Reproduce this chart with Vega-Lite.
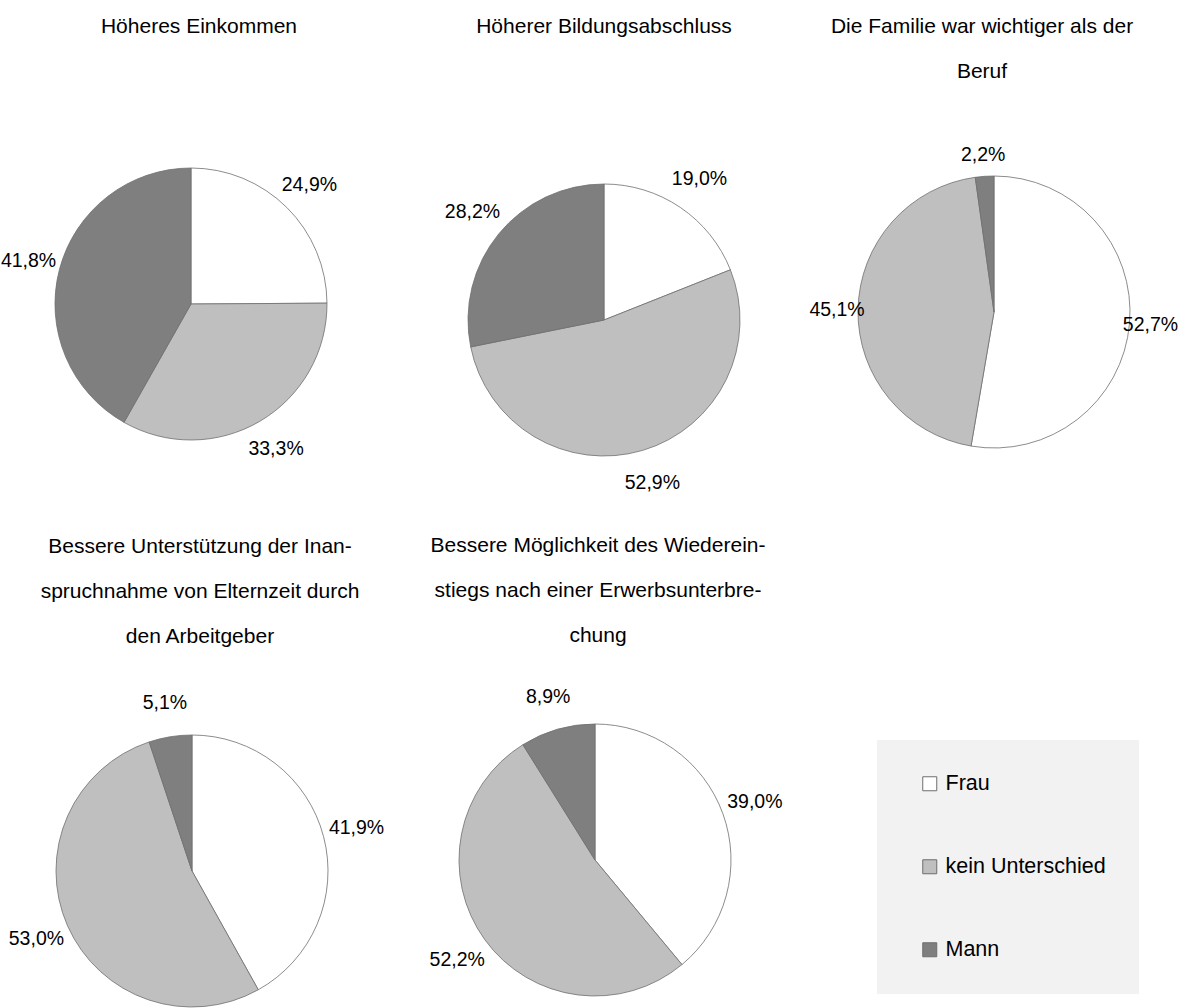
{
  "$schema": "https://vega.github.io/schema/vega-lite/v6.json",
  "background": "white",
  "padding": {"top": 16, "left": 0, "right": 0, "bottom": 0},
  "config": {
    "locale": {"number": {"decimal": ",", "thousands": ".", "grouping": [3], "currency": ["", " €"]}},
    "font": "Liberation Sans",
    "view": {"stroke": null},
    "title": {"font": "Liberation Sans", "fontSize": 21, "fontWeight": "normal", "color": "#000000", "lineHeight": 45, "anchor": "middle", "frame": "group"}
  },
  "data": {
    "values": [
      {"Frage": "Höheres Einkommen", "Antwort": "Frau", "Nr": 1, "Anteil": 0.249},
      {"Frage": "Höheres Einkommen", "Antwort": "kein Unterschied", "Nr": 2, "Anteil": 0.333},
      {"Frage": "Höheres Einkommen", "Antwort": "Mann", "Nr": 3, "Anteil": 0.418},
      {"Frage": "Höherer Bildungsabschluss", "Antwort": "Frau", "Nr": 1, "Anteil": 0.190},
      {"Frage": "Höherer Bildungsabschluss", "Antwort": "kein Unterschied", "Nr": 2, "Anteil": 0.529},
      {"Frage": "Höherer Bildungsabschluss", "Antwort": "Mann", "Nr": 3, "Anteil": 0.282},
      {"Frage": "Die Familie war wichtiger als der Beruf", "Antwort": "Frau", "Nr": 1, "Anteil": 0.527},
      {"Frage": "Die Familie war wichtiger als der Beruf", "Antwort": "kein Unterschied", "Nr": 2, "Anteil": 0.451},
      {"Frage": "Die Familie war wichtiger als der Beruf", "Antwort": "Mann", "Nr": 3, "Anteil": 0.022},
      {"Frage": "Elternzeit", "Antwort": "Frau", "Nr": 1, "Anteil": 0.419},
      {"Frage": "Elternzeit", "Antwort": "kein Unterschied", "Nr": 2, "Anteil": 0.530},
      {"Frage": "Elternzeit", "Antwort": "Mann", "Nr": 3, "Anteil": 0.051},
      {"Frage": "Wiedereinstieg", "Antwort": "Frau", "Nr": 1, "Anteil": 0.390},
      {"Frage": "Wiedereinstieg", "Antwort": "kein Unterschied", "Nr": 2, "Anteil": 0.522},
      {"Frage": "Wiedereinstieg", "Antwort": "Mann", "Nr": 3, "Anteil": 0.089}
    ]
  },
  "bounds": "flush",
  "align": "none",
  "spacing": 636,
  "resolve": {"scale": {"theta": "independent"}},
  "vconcat": [
    {
      "bounds": "flush",
      "align": "none",
      "spacing": 0,
      "resolve": {"scale": {"theta": "independent"}},
      "hconcat": [
        {
          "title": {"text": "Höheres Einkommen", "offset": 62, "dx": 8},
          "width": 380, "height": 410,
          "transform": [{"filter": "datum.Frage === 'Höheres Einkommen'"}],
          "encoding": {
            "theta": {"field": "Anteil", "type": "quantitative", "stack": true},
            "order": {"field": "Nr", "type": "quantitative"}
          },
          "layer": [
            {
              "mark": {"type": "arc", "outerRadius": 136, "stroke": "#6e6e6e", "strokeWidth": 0.8},
              "encoding": {
                "color": {"field": "Antwort", "type": "nominal",
                  "scale": {"domain": ["Frau", "kein Unterschied", "Mann"], "range": ["#ffffff", "#bfbfbf", "#7f7f7f"]},
                  "legend": {"orient": "none", "legendX": 876, "legendY": 641, "title": null, "symbolType": "square", "symbolSize": 196, "symbolStrokeColor": "#6e6e6e", "symbolStrokeWidth": 1, "labelFont": "Liberation Sans", "labelFontSize": 21.5, "labelColor": "#000000", "labelLimit": 400, "labelOffset": 5, "fillColor": "#f2f2f2", "padding": 33, "rowPadding": 60, "symbolOffset": 9}}
              }
            },
            {
              "mark": {"type": "text", "radius": 168, "fontSize": 19.5, "font": "Liberation Sans"},
              "encoding": {
                "detail": {"field": "Antwort", "type": "nominal"},
                "text": {"field": "Anteil", "type": "quantitative", "format": ".1%"},
                "color": {"value": "#000000"}
              }
            }
          ]
        },
        {
          "title": {"text": "Höherer Bildungsabschluss", "offset": 62},
          "width": 446, "height": 442,
          "transform": [{"filter": "datum.Frage === 'Höherer Bildungsabschluss'"}],
          "encoding": {
            "theta": {"field": "Anteil", "type": "quantitative", "stack": true},
            "order": {"field": "Nr", "type": "quantitative"}
          },
          "layer": [
            {
              "mark": {"type": "arc", "outerRadius": 136, "stroke": "#6e6e6e", "strokeWidth": 0.8},
              "encoding": {
                "color": {"field": "Antwort", "type": "nominal",
                  "scale": {"domain": ["Frau", "kein Unterschied", "Mann"], "range": ["#ffffff", "#bfbfbf", "#7f7f7f"]},
                  "legend": {"orient": "none", "legendX": 876, "legendY": 641, "title": null, "symbolType": "square", "symbolSize": 196, "symbolStrokeColor": "#6e6e6e", "symbolStrokeWidth": 1, "labelFont": "Liberation Sans", "labelFontSize": 21.5, "labelColor": "#000000", "labelLimit": 400, "labelOffset": 5, "fillColor": "#f2f2f2", "padding": 33, "rowPadding": 60, "symbolOffset": 9}}
              }
            },
            {
              "mark": {"type": "text", "radius": 170, "fontSize": 19.5, "font": "Liberation Sans"},
              "encoding": {
                "detail": {"field": "Antwort", "type": "nominal"},
                "text": {"field": "Anteil", "type": "quantitative", "format": ".1%"},
                "color": {"value": "#000000"}
              }
            }
          ]
        },
        {
          "title": {"text": ["Die Familie war wichtiger als der", "Beruf"], "offset": 17, "dx": -12},
          "width": 334, "height": 426,
          "transform": [{"filter": "datum.Frage === 'Die Familie war wichtiger als der Beruf'"}],
          "encoding": {
            "theta": {"field": "Anteil", "type": "quantitative", "stack": true},
            "order": {"field": "Nr", "type": "quantitative"}
          },
          "layer": [
            {
              "mark": {"type": "arc", "outerRadius": 136, "stroke": "#6e6e6e", "strokeWidth": 0.8},
              "encoding": {
                "color": {"field": "Antwort", "type": "nominal",
                  "scale": {"domain": ["Frau", "kein Unterschied", "Mann"], "range": ["#ffffff", "#bfbfbf", "#7f7f7f"]},
                  "legend": {"orient": "none", "legendX": 876, "legendY": 641, "title": null, "symbolType": "square", "symbolSize": 196, "symbolStrokeColor": "#6e6e6e", "symbolStrokeWidth": 1, "labelFont": "Liberation Sans", "labelFontSize": 21.5, "labelColor": "#000000", "labelLimit": 400, "labelOffset": 5, "fillColor": "#f2f2f2", "padding": 33, "rowPadding": 60, "symbolOffset": 9}}
              }
            },
            {
              "mark": {"type": "text", "radius": 157, "fontSize": 19.5, "font": "Liberation Sans"},
              "encoding": {
                "detail": {"field": "Antwort", "type": "nominal"},
                "text": {"field": "Anteil", "type": "quantitative", "format": ".1%"},
                "color": {"value": "#000000"}
              }
            }
          ]
        }
      ]
    },
    {
      "bounds": "flush",
      "align": "none",
      "spacing": 0,
      "resolve": {"scale": {"theta": "independent"}},
      "hconcat": [
        {
          "title": {"text": ["Bessere Unterstützung der Inan-", "spruchnahme von Elternzeit durch", "den Arbeitgeber"], "offset": 46, "dx": 8},
          "width": 382, "height": 272,
          "transform": [{"filter": "datum.Frage === 'Elternzeit'"}],
          "encoding": {
            "theta": {"field": "Anteil", "type": "quantitative", "stack": true},
            "order": {"field": "Nr", "type": "quantitative"}
          },
          "layer": [
            {
              "mark": {"type": "arc", "outerRadius": 136, "stroke": "#6e6e6e", "strokeWidth": 0.8},
              "encoding": {
                "color": {"field": "Antwort", "type": "nominal",
                  "scale": {"domain": ["Frau", "kein Unterschied", "Mann"], "range": ["#ffffff", "#bfbfbf", "#7f7f7f"]},
                  "legend": {"orient": "none", "legendX": 876, "legendY": 641, "title": null, "symbolType": "square", "symbolSize": 196, "symbolStrokeColor": "#6e6e6e", "symbolStrokeWidth": 1, "labelFont": "Liberation Sans", "labelFontSize": 21.5, "labelColor": "#000000", "labelLimit": 400, "labelOffset": 5, "fillColor": "#f2f2f2", "padding": 33, "rowPadding": 60, "symbolOffset": 9}}
              }
            },
            {
              "mark": {"type": "text", "radius": 170, "fontSize": 19.5, "font": "Liberation Sans"},
              "encoding": {
                "detail": {"field": "Antwort", "type": "nominal"},
                "text": {"field": "Anteil", "type": "quantitative", "format": ".1%"},
                "color": {"value": "#000000"}
              }
            }
          ]
        },
        {
          "title": {"text": ["Bessere Möglichkeit des Wiederein-", "stiegs nach einer Erwerbsunterbre-", "chung"], "offset": 41, "dx": 3},
          "width": 424, "height": 250,
          "transform": [{"filter": "datum.Frage === 'Wiedereinstieg'"}],
          "encoding": {
            "theta": {"field": "Anteil", "type": "quantitative", "stack": true},
            "order": {"field": "Nr", "type": "quantitative"}
          },
          "layer": [
            {
              "mark": {"type": "arc", "outerRadius": 136, "stroke": "#6e6e6e", "strokeWidth": 0.8},
              "encoding": {
                "color": {"field": "Antwort", "type": "nominal",
                  "scale": {"domain": ["Frau", "kein Unterschied", "Mann"], "range": ["#ffffff", "#bfbfbf", "#7f7f7f"]},
                  "legend": {"orient": "none", "legendX": 876, "legendY": 641, "title": null, "symbolType": "square", "symbolSize": 196, "symbolStrokeColor": "#6e6e6e", "symbolStrokeWidth": 1, "labelFont": "Liberation Sans", "labelFontSize": 21.5, "labelColor": "#000000", "labelLimit": 400, "labelOffset": 5, "fillColor": "#f2f2f2", "padding": 33, "rowPadding": 60, "symbolOffset": 9}}
              }
            },
            {
              "mark": {"type": "text", "radius": 170, "fontSize": 19.5, "font": "Liberation Sans"},
              "encoding": {
                "detail": {"field": "Antwort", "type": "nominal"},
                "text": {"field": "Anteil", "type": "quantitative", "format": ".1%"},
                "color": {"value": "#000000"}
              }
            }
          ]
        }
      ]
    }
  ]
}
